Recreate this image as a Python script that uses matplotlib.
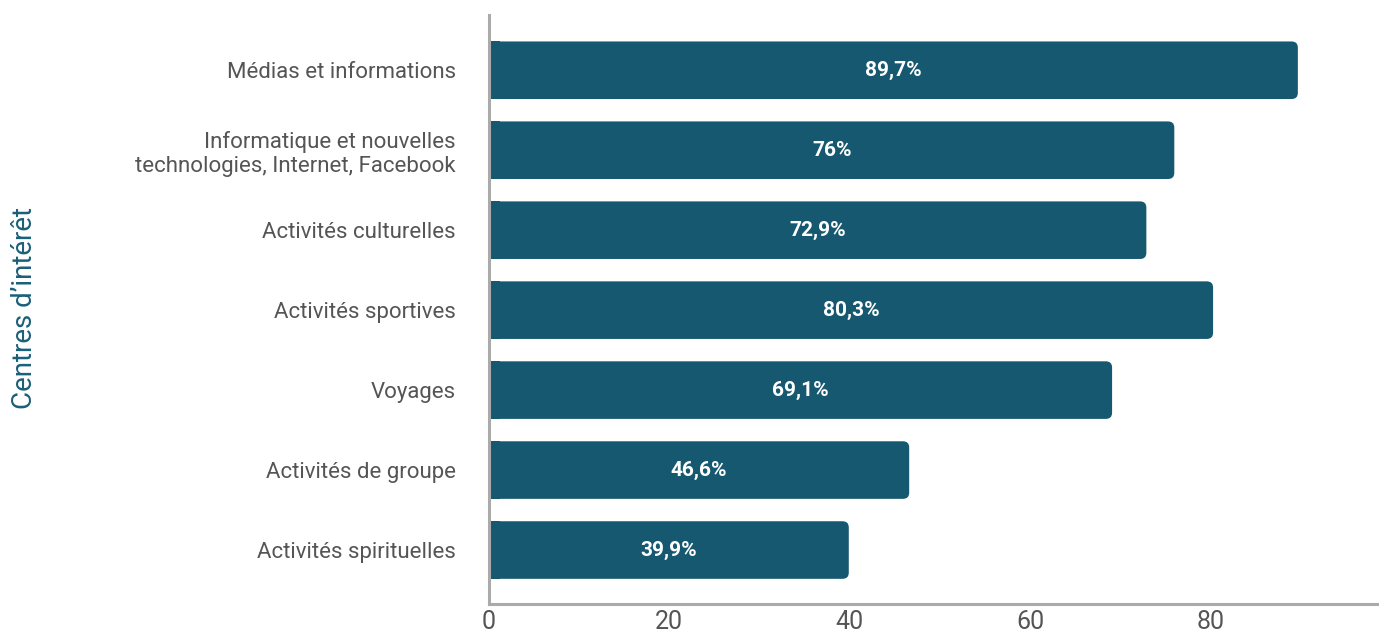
import matplotlib.pyplot as plt
from matplotlib.patches import FancyBboxPatch

# Data
categories = ['Médias et informations',
              'Informatique et nouvelles\ntechnologies, Internet, Facebook',
              'Activités culturelles',
              'Activités sportives',
              'Voyages',
              'Activités de groupe',
              'Activités spirituelles']
values = [89.7, 76, 72.9, 80.3, 69.1, 46.6, 39.9]
value_labels = ['89,7%', '76%', '72,9%', '80,3%', '69,1%', '46,6%', '39,9%']
x_ticks = [0, 20, 40, 60, 80]

bar_color = '#15586f'
text_gray = '#555555'
axis_gray = '#aaaaaa'

plt.rcParams['font.family'] = ['Roboto', 'DejaVu Sans']

fig = plt.figure(figsize=(13.79, 6.36), dpi=100)
ax = fig.add_axes([0.3546, 0.0503, 0.6454, 0.926])

y_pos = list(range(len(categories)))
bars = ax.barh(y_pos, values, height=0.72, color=bar_color)

# round the right-hand corners only (left corners hidden under a small square bar)
for b in bars:
    b.set_visible(False)
    rb = FancyBboxPatch((b.get_x(), b.get_y()), b.get_width(), b.get_height(),
                        boxstyle='round,pad=0,rounding_size=0.7',
                        mutation_aspect=0.11, color=bar_color, lw=0)
    ax.add_patch(rb)
ax.barh(y_pos, [1.2] * len(values), height=0.72, color=bar_color)

# value labels in the middle of each bar
for y, v, lab in zip(y_pos, values, value_labels):
    ax.text(v / 2, y, lab, ha='center', va='center', color='white',
            fontsize=15, fontweight='bold')

ax.set_yticks(y_pos)
ax.set_yticklabels(categories, fontsize=16, color=text_gray)
ax.set_xticks(x_ticks)
ax.set_xticklabels([str(t) for t in x_ticks], fontsize=18, color=text_gray)
ax.tick_params(axis='y', length=0, pad=24)
ax.tick_params(axis='x', length=0, pad=4)

ax.set_xlim(0, 98.7)
ax.set_ylim(6.675, -0.69)

for side in ['top', 'right']:
    ax.spines[side].set_visible(False)
for side in ['left', 'bottom']:
    ax.spines[side].set_color(axis_gray)
    ax.spines[side].set_linewidth(2.2)
    ax.spines[side].set_zorder(3)

fig.text(25 / 1379, 1 - 308 / 636, 'Centres d\u2019intérêt', rotation=90,
         ha='center', va='center', fontsize=20, color='#1a5f78')

fig.savefig('out.png', dpi=100)
